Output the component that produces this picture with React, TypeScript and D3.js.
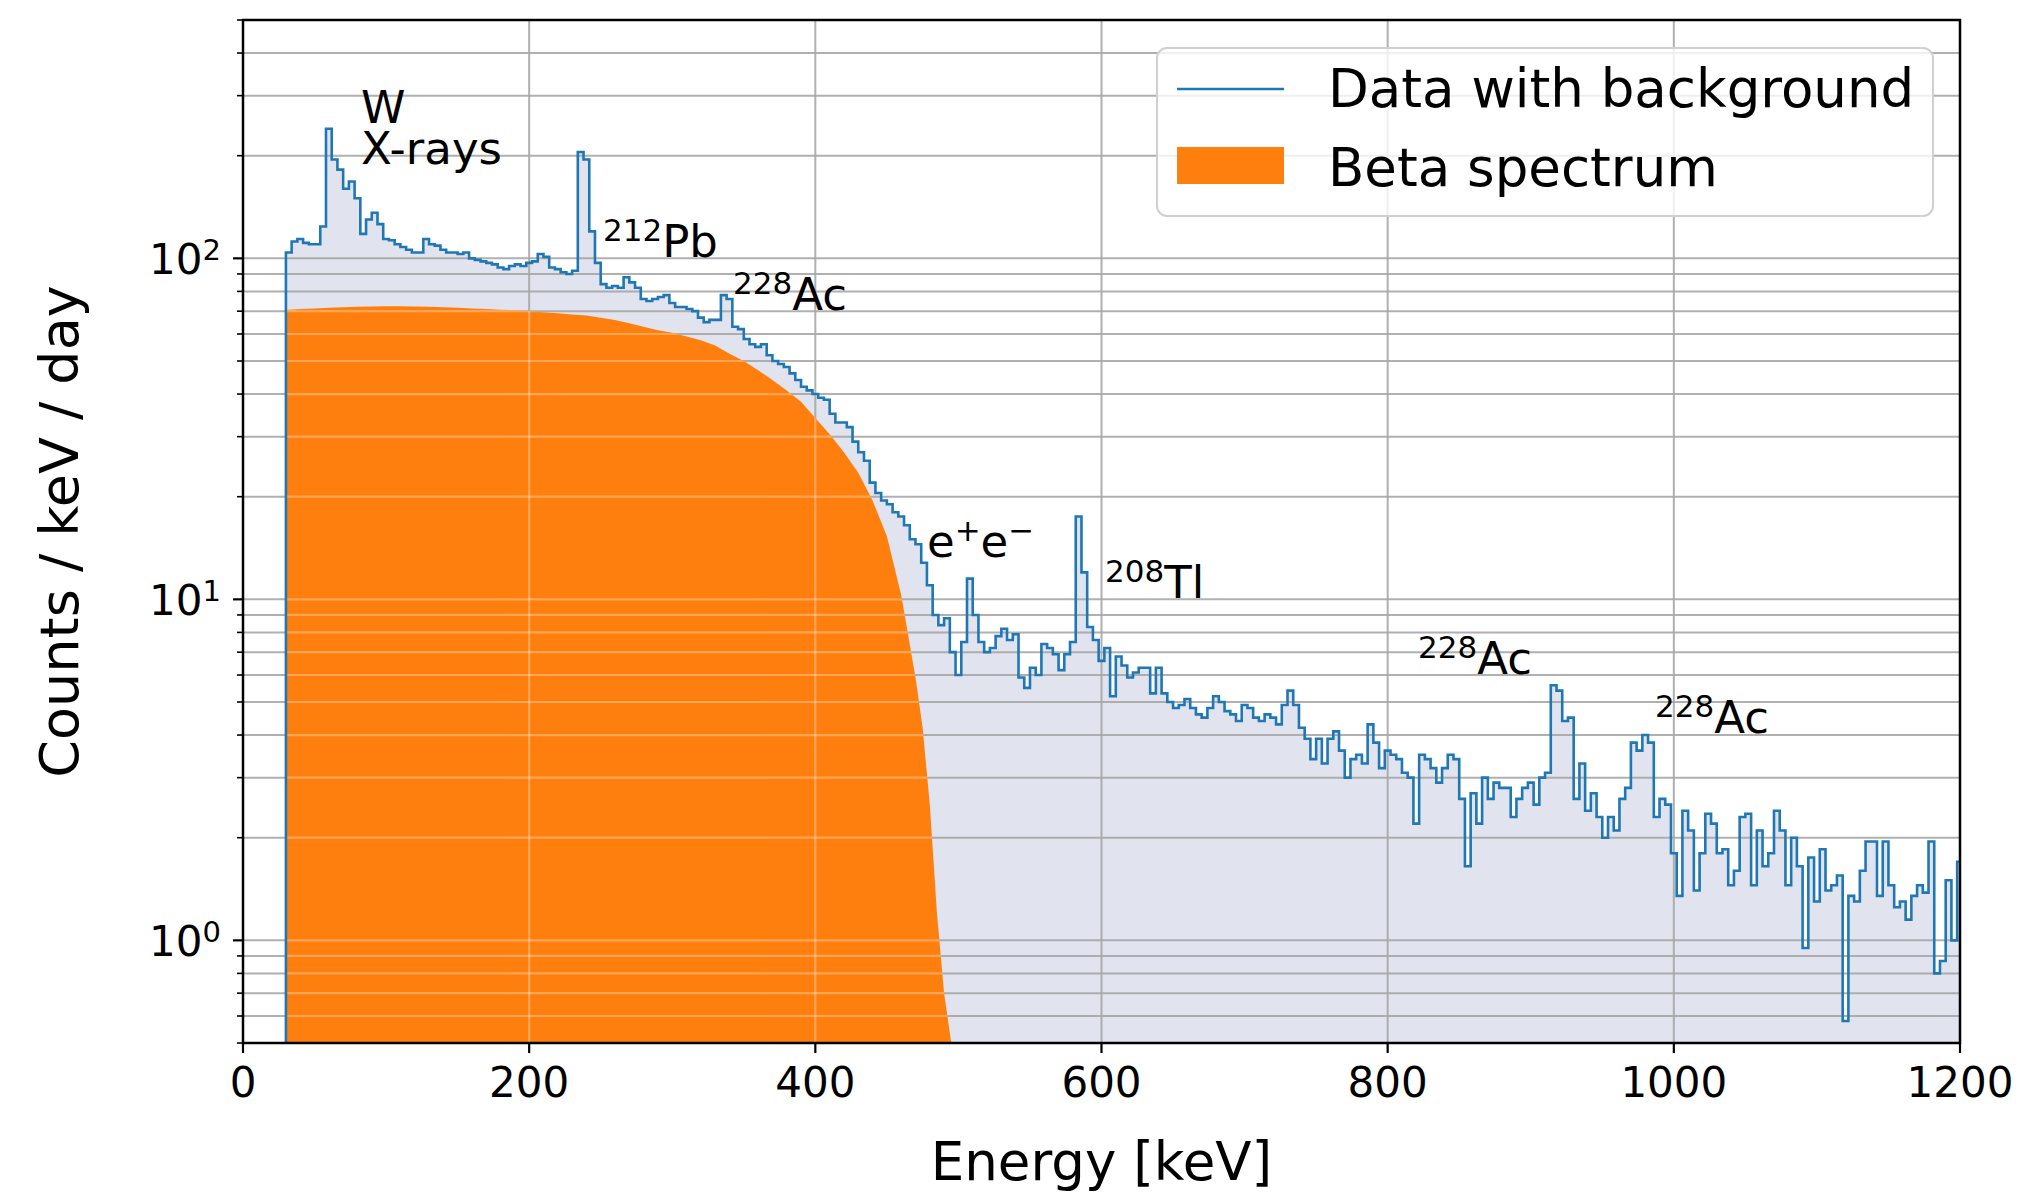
import React from "react";
import * as d3 from "d3";

// ---------- data ----------
const BIN_WIDTH = 4; // keV
const dataStart = 30;
const dataCounts = [
  104, 112, 114, 111, 110, 110, 124, 240, 195, 182, 160, 168, 150, 118, 130, 136, 126, 114, 113, 110,
  108, 106, 104, 104, 114, 110, 109, 106, 104, 104, 103, 104, 100, 99, 98, 97, 96, 94, 93, 95,
  96, 95, 97, 98, 103, 101, 94, 93, 91, 90, 92, 205, 195, 120, 97, 84, 82, 83, 82, 88,
  85, 82, 76, 75, 76, 77, 78, 74, 72, 72, 71, 70, 67, 65, 66, 66, 78, 76, 63, 62,
  58, 56, 55, 56, 52, 50, 49, 48, 46, 44, 42, 41, 40, 39, 38.5, 35, 33, 33, 32, 29,
  27, 25.5, 22, 20.5, 19.5, 19, 18, 17.5, 16.5, 15, 14.5, 12.8, 11, 9.0, 8.4, 8.8, 7.0, 6.0, 7.5, 11.5,
  9.0, 7.5, 7.0, 7.2, 7.8, 8.2, 7.6, 7.9, 5.9, 5.5, 6.3, 6.0, 7.4, 7.2, 6.9, 6.2, 6.9, 7.5, 17.5, 12.0,
  8.3, 7.6, 6.6, 7.2, 5.2, 6.8, 6.4, 5.9, 6.1, 6.3, 6.3, 5.3, 6.3, 5.3, 5.0, 4.8, 4.9, 5.1, 4.8, 4.6,
  4.5, 4.8, 5.2, 5.0, 4.7, 4.6, 4.4, 4.9, 4.8, 4.5, 4.4, 4.6, 4.5, 4.3, 4.9, 5.4, 4.9, 4.2, 3.9, 3.4,
  3.9, 3.3, 3.9, 4.1, 3.6, 3.0, 3.4, 3.5, 3.3, 4.3, 3.8, 3.2, 3.6, 3.5, 3.4, 3.1, 3.0, 2.2, 3.5, 3.4,
  3.2, 2.9, 3.2, 3.5, 3.4, 2.6, 1.65, 2.7, 2.2, 3.0, 2.6, 2.9, 2.8, 2.8, 2.3, 2.6, 2.8, 2.9, 2.5, 3.0,
  3.1, 5.6, 5.4, 4.4, 4.5, 2.6, 3.3, 2.4, 2.7, 2.3, 2.0, 2.3, 2.1, 2.6, 2.8, 3.8, 3.6, 4.0, 3.8, 2.3,
  2.6, 2.5, 1.8, 1.35, 2.4, 2.1, 1.4, 1.8, 2.35, 2.2, 1.8, 1.85, 1.45, 1.6, 2.3, 2.35, 1.45, 2.1, 1.65, 1.8,
  2.4, 2.1, 1.45, 2.0, 1.65, 0.95, 1.75, 1.3, 1.85, 1.4, 1.45, 1.55, 0.58, 1.35, 1.3, 1.6, 1.95, 1.95, 1.35, 1.95,
  1.45, 1.25, 1.3, 1.15, 1.35, 1.45, 1.38, 1.95, 0.8, 0.87, 1.5, 1.0, 1.7,
];

const betaEnergy = [
  30, 40, 50, 60, 70, 80, 90, 100, 110, 120, 130, 140, 150, 160, 170, 180, 190, 200, 210, 220,
  230, 240, 250, 260, 270, 280, 290, 300, 310, 320, 330, 340, 350, 360, 370, 380, 390, 400, 410, 420,
  430, 440, 450, 460, 465, 470, 475, 480, 485, 490, 495,
];
const betaCounts = [
  70.5, 71, 71.3, 71.6, 71.9, 72.1, 72.3, 72.4, 72.4, 72.3, 72.1, 71.9, 71.6, 71.3, 71, 70.7, 70.4, 70, 69.5, 69,
  68.5, 68, 67, 66, 64.5, 63, 61.5, 60.5, 59, 57.5, 55.5, 52.5, 50, 47, 44, 41, 38, 34, 30.5, 27,
  23.5, 19.5, 15.3, 10.3, 7.8, 5.9, 4.2, 2.5, 1.2, 0.7, 0.45,
];

const xTicks = [0, 200, 400, 600, 800, 1000, 1200];
const yMajorTicks = [1, 10, 100];
const yMajorExp = ["0", "1", "2"];

const annotations = [
  { sup: "212", main: "Pb", e: 251.6, c: 101 },
  { sup: "228", main: "Ac", e: 342.5, c: 70.4 },
  { sup: "208", main: "Tl", e: 602.5, c: 10.07 },
  { sup: "228", main: "Ac", e: 821.2, c: 6.03 },
  { sup: "228", main: "Ac", e: 986.9, c: 4.05 },
];
const wLines = ["W", "X-rays"];
const wPos = { e: 82.5, c: 250 };
const epemPos = { e: 478, c: 13.3 };

const legendLabels = ["Data with background", "Beta spectrum"];

// ---------- layout ----------
const W = 2019;
const H = 1197;
const L = 243, R = 1960, T = 20, B = 1043;
const FONT = "'DejaVu Sans', sans-serif";
const BLUE = "#1f77b4";
const ORANGE = "#ff7f0e";
const FILL = "#e1e3ee";
const GRID = "#a8a8a8";

export default function App() {
  const x = d3.scaleLinear().domain([0, 1200]).range([L, R]);
  const y = d3.scaleLog().domain([0.5, 500]).range([B, T]);

  const steps = dataCounts.map((v, i) => ({ e: dataStart + i * BIN_WIDTH, v }));
  const lastE = dataStart + dataCounts.length * BIN_WIDTH;
  const stepPts = [...steps, { e: lastE, v: dataCounts[dataCounts.length - 1] }];

  const area = d3
    .area<{ e: number; v: number }>()
    .x((d) => x(d.e))
    .y0(B)
    .y1((d) => y(d.v))
    .curve(d3.curveStepAfter);
  const line = d3
    .line<{ e: number; v: number }>()
    .x((d) => x(d.e))
    .y((d) => y(d.v))
    .curve(d3.curveStepAfter);
  const linePath =
    `M${x(dataStart)},${B}L` + (line(stepPts) as string).slice(1) + `L${x(lastE)},${B}`;

  const beta = betaEnergy.map((e, i) => ({ e, v: betaCounts[i] }));
  const betaArea = d3
    .area<{ e: number; v: number }>()
    .x((d) => x(d.e))
    .y0(B)
    .y1((d) => y(Math.max(d.v, 0.5)));
  const betaPath = betaArea(beta) as string;

  const yAll = y.ticks();
  const isMajor = (t: number) => yMajorTicks.some((m) => Math.abs(m - t) < 1e-9);

  const gridLines = (stroke: string, width: number, opacity: number, prefix: string) => (
    <>
      {yAll.map((t, i) => (
        <line key={prefix + "gy" + i} x1={L} x2={R} y1={y(t)} y2={y(t)} stroke={stroke} strokeWidth={width} opacity={opacity} />
      ))}
      {xTicks.map((t, i) => (
        <line key={prefix + "gx" + i} x1={x(t)} x2={x(t)} y1={T} y2={B} stroke={stroke} strokeWidth={width} opacity={opacity} />
      ))}
    </>
  );

  return (
    <svg
      width={W}
      height={H}
      viewBox={`0 0 ${W} ${H}`}
      style={{ position: "absolute", left: 0, top: 0, background: "#fff" }}
      fontFamily={FONT}
    >
      <defs>
        <clipPath id="plot">
          <rect x={L} y={T} width={R - L} height={B - T} />
        </clipPath>
        <clipPath id="betaClip">
          <path d={betaPath} />
        </clipPath>
      </defs>
      <rect x={0} y={0} width={W} height={H} fill="#fff" />

      <g clipPath="url(#plot)">
        <path d={area(stepPts) as string} fill={FILL} />
        {gridLines(GRID, 2, 0.9, "a")}
        <path d={betaPath} fill={ORANGE} />
        <g clipPath="url(#betaClip)">{gridLines("#ffffff", 2.2, 0.3, "b")}</g>
        <path d={linePath} fill="none" stroke={BLUE} strokeWidth={2.6} strokeLinejoin="miter" />
      </g>

      {/* annotations */}
      <text x={x(wPos.e)} y={y(wPos.c)} fontSize={45} fill="#000">
        <tspan x={x(wPos.e)}>{wLines[0]}</tspan>
        <tspan x={x(wPos.e)} dy={41}>{wLines[1]}</tspan>
      </text>
      {annotations.map((a, i) => (
        <text key={"an" + i} x={x(a.e)} y={y(a.c)} fontSize={45} fill="#000">
          <tspan fontSize={31} dy={-16}>{a.sup}</tspan>
          <tspan dy={16}>{a.main}</tspan>
        </text>
      ))}
      <text x={x(epemPos.e)} y={y(epemPos.c)} fontSize={45} fill="#000">
        e<tspan fontSize={31} dy={-16}>+</tspan>
        <tspan dy={16}>e</tspan>
        <tspan fontSize={31} dy={-16}>−</tspan>
      </text>

      {/* legend */}
      <rect x={1157} y={48} width={776} height={168} rx={10} fill="#fff" fillOpacity={0.8} stroke="#d0d0d0" strokeWidth={2} />
      <line x1={1177} x2={1284} y1={89} y2={89} stroke={BLUE} strokeWidth={2.6} />
      <rect x={1177} y={147} width={107} height={37} fill={ORANGE} />
      <text x={1328} y={107} fontSize={53} fill="#000">{legendLabels[0]}</text>
      <text x={1328} y={186} fontSize={53} fill="#000">{legendLabels[1]}</text>

      {/* spines */}
      <rect x={L} y={T} width={R - L} height={B - T} fill="none" stroke="#000" strokeWidth={2.5} />

      {/* x ticks */}
      {xTicks.map((t, i) => (
        <g key={"xt" + i}>
          <line x1={x(t)} x2={x(t)} y1={B} y2={B + 10} stroke="#000" strokeWidth={2.2} />
          <text x={x(t)} y={1097} fontSize={42} textAnchor="middle" fill="#000">{t}</text>
        </g>
      ))}
      {/* y ticks */}
      {yAll.map((t, i) => (
        <line key={"yt" + i} x1={L - (isMajor(t) ? 10 : 6)} x2={L} y1={y(t)} y2={y(t)} stroke="#000" strokeWidth={isMajor(t) ? 2.2 : 1.6} />
      ))}
      {yMajorTicks.map((t, i) => (
        <text key={"yl" + i} x={221} y={y(t) + 16} fontSize={42} textAnchor="end" fill="#000">
          10<tspan fontSize={29} dy={-14}>{yMajorExp[i]}</tspan>
        </text>
      ))}

      {/* axis labels */}
      <text x={(L + R) / 2} y={1180} fontSize={53} textAnchor="middle" fill="#000">Energy [keV]</text>
      <text transform={`translate(78,${(T + B) / 2}) rotate(-90)`} fontSize={54} textAnchor="middle" fill="#000">
        Counts / keV / day
      </text>
    </svg>
  );
}
